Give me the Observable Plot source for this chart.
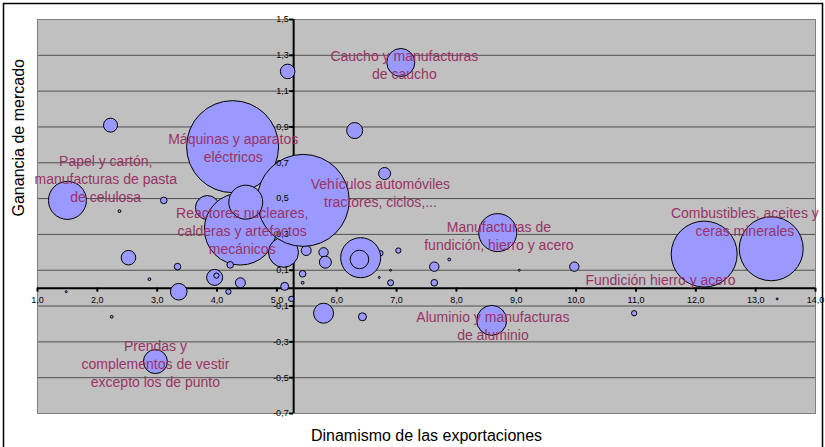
<!DOCTYPE html>
<html>
<head>
<meta charset="utf-8">
<script src="https://cdn.jsdelivr.net/npm/d3@7"></script>
<script src="https://cdn.jsdelivr.net/npm/@observablehq/plot@0.6"></script>
<style>
  html, body { margin: 0; padding: 0; background: #ffffff; }
  #chart svg { display: block; }
</style>
</head>
<body>
<div id="chart"></div>
<script>
// Bubble data (x = dinamismo de las exportaciones, y = ganancia de mercado, size = bubble size)
const bubbleX = [4.26, 3.84, 4.39, 5.11, 5.49, 5.44, 4.48, 2.22, 1.50, 3.11, 2.37, 2.52, 3.34, 2.87, 3.96, 3.99, 4.39, 3.36, 4.19, 4.22, 5.13, 5.43, 5.43, 5.24, 6.80, 6.73, 6.40, 6.38, 7.03, 5.78, 5.81, 6.71, 6.90, 6.90, 7.63, 7.63, 7.88, 7.07, 5.18, 6.30, 8.69, 9.97, 12.14, 13.26, 8.59, 5.78, 6.43, 10.97, 2.97, 2.24, 9.05, 1.48, 13.36];
const bubbleY = [0.79, 0.45, 0.33, 0.20, 0.21, 0.49, 0.48, 0.91, 0.49, 0.49, 0.43, 0.17, 0.12, 0.05, 0.06, 0.07, 0.03, -0.02, -0.02, 0.13, 0.01, 0.08, 0.03, -0.06, 0.64, 0.195, 0.17, 0.16, 0.21, 0.20, 0.145, 0.06, 0.10, 0.03, 0.12, 0.03, 0.16, 1.26, 1.21, 0.88, 0.31, 0.12, 0.19, 0.22, -0.18, -0.14, -0.16, -0.14, -0.41, -0.16, 0.10, -0.02, -0.06];
const bubbleSize = [2116, 144, 1296, 225, 25, 2116, 289, 49, 361, 11, 2, 53, 11, 2, 64, 7, 25, 69, 7, 11, 16, 11, 2, 7, 36, 7, 400, 86, 7, 22, 36, 1, 1, 9, 22, 11, 2, 196, 53, 64, 361, 22, 1089, 1024, 225, 100, 16, 7, 144, 2, 1, 1, 1];

// Data labels
const labelText = [
  "Caucho y manufacturas\nde caucho",
  "Máquinas y aparatos\neléctricos",
  "Papel y cartón,\nmanufacturas de pasta\nde celulosa",
  "Reactores nucleares,\ncalderas y artefactos\nmecánicos",
  "Vehículos automóviles\ntractores, ciclos,...",
  "Manufacturas de\nfundición, hierro y acero",
  "Combustibles, aceites y\nceras minerales",
  "Fundición hierro y acero",
  "Aluminio y manufacturas\nde aluminio",
  "Prendas y\ncomplementos de vestir\nexcepto los de punto"
];
const labelX = [7.13, 4.27, 2.14, 4.42, 6.73, 8.71, 12.82, 11.41, 8.61, 2.97];
const labelY = [1.25, 0.785, 0.612, 0.321, 0.536, 0.296, 0.374, 0.05, -0.207, -0.42];

// Axes
const xTicks = [1, 2, 3, 4, 5, 6, 7, 8, 9, 10, 11, 12, 13, 14];
const yTicks = [-0.7, -0.5, -0.3, -0.1, 0.1, 0.3, 0.5, 0.7, 0.9, 1.1, 1.3, 1.5];
const xTitle = "Dinamismo de las exportaciones";
const yTitle = "Ganancia de mercado";
const yAxisCrossX = 5.28;

const bubbles = bubbleX.map((x, i) => ({x, y: bubbleY[i], size: bubbleSize[i]}));
const labels = labelText.map((t, i) => ({text: t, x: labelX[i], y: labelY[i]}));
const fmt = d => d.toFixed(1).replace(".", ",");

const chart = Plot.plot({
  width: 825,
  height: 447,
  marginLeft: 37,
  marginRight: 10,
  marginTop: 19,
  marginBottom: 34,
  x: {domain: [1, 14], axis: null},
  y: {domain: [-0.7, 1.5], axis: null},
  r: {type: "sqrt", domain: [0, 2116], range: [0, 46]},
  style: {fontFamily: "'Liberation Sans', Arial, sans-serif", background: "#ffffff", overflow: "visible"},
  marks: [
    Plot.frame({fill: "#c0c0c0", stroke: null}),
    Plot.ruleY(yTicks, {stroke: "#505050", strokeWidth: 1}),
    Plot.frame({stroke: "#808080", strokeWidth: 1}),
    Plot.ruleY([0], {x1: 1, x2: 14, stroke: "#000", strokeWidth: 2}),
    Plot.ruleX([yAxisCrossX], {y1: -0.7, y2: 1.5, stroke: "#000", strokeWidth: 2}),
    Plot.ruleX(xTicks, {x: d => d, y1: 0, y2: 0, insetTop: 0, insetBottom: -4, stroke: "#000", strokeWidth: 2}),
    Plot.ruleY(yTicks, {y: d => d, x1: yAxisCrossX, x2: yAxisCrossX, insetLeft: -4, insetRight: 0, stroke: "#000", strokeWidth: 2}),
    Plot.dot(bubbles, {x: "x", y: "y", r: "size", fill: "#9999ff", stroke: "#000", strokeWidth: 1, sort: null}),
    Plot.text(xTicks, {x: d => d, y: 0, dy: 12, text: fmt, fontSize: 9, fill: "#000"}),
    Plot.text(yTicks, {x: yAxisCrossX, y: d => d, dx: -5, textAnchor: "end", text: fmt, fontSize: 9, fill: "#000"}),
    Plot.text(labels, {x: "x", y: "y", text: "text", fill: "#993366", fontSize: 14, lineHeight: 1.28}),
    Plot.text([xTitle], {frameAnchor: "bottom", lineAnchor: "middle", dy: 22.5, text: d => d, fontSize: 16, fill: "#000"}),
    Plot.text([yTitle], {frameAnchor: "left", rotate: -90, dx: -19, text: d => d, fontSize: 16, fill: "#000"}),
    Plot.frame({stroke: "#000", strokeWidth: 1.5, fill: null, insetLeft: -34, insetTop: -16, insetRight: -7, insetBottom: -36})
  ]
});
document.getElementById("chart").appendChild(chart);
</script>
</body>
</html>
